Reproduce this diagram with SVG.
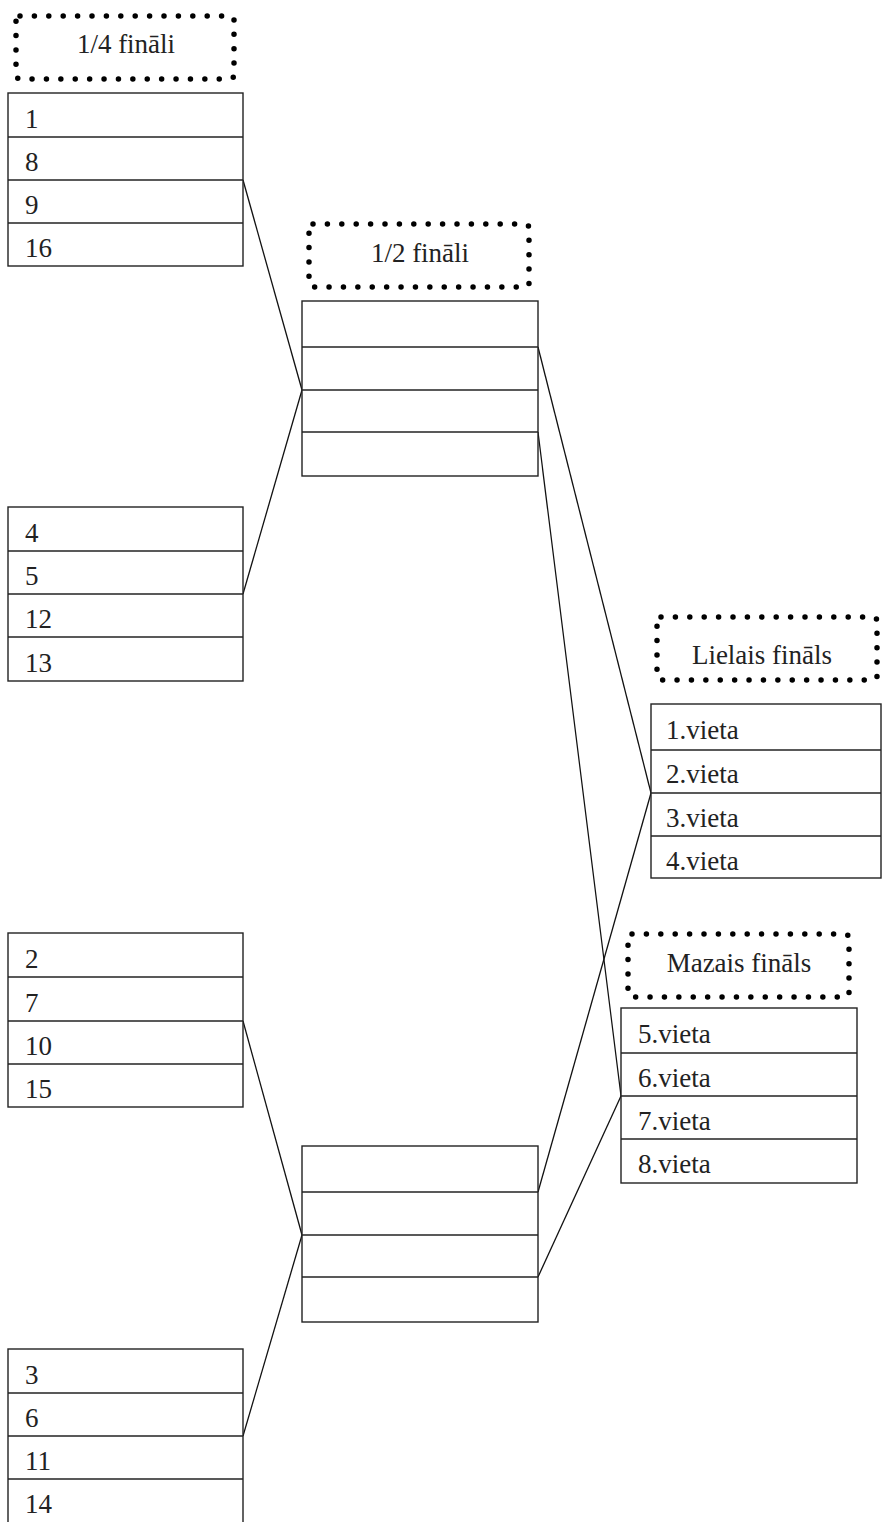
<svg xmlns="http://www.w3.org/2000/svg" width="882" height="1522" viewBox="0 0 882 1522">
<style>
.tbl{fill:#fff;stroke:#222;stroke-width:1.4}
.row{stroke:#222;stroke-width:1.4}
.dot{fill:none;stroke:#000;stroke-width:5.5;stroke-linecap:round;stroke-dasharray:0 14.4}
.t{font-family:'Liberation Serif','DejaVu Serif',serif;font-size:27px;fill:#222}
.h{font-family:'Liberation Serif','DejaVu Serif',serif;font-size:27px;fill:#222;text-anchor:middle}
.c{stroke:#111;stroke-width:1.3;fill:none}
</style>
<rect width="882" height="1522" fill="#fff"/>
<g id="connectors">
<line class="c" x1="243" y1="180" x2="302" y2="390"/>
<line class="c" x1="243" y1="594" x2="302" y2="390"/>
<line class="c" x1="243" y1="1021" x2="302" y2="1235"/>
<line class="c" x1="243" y1="1436" x2="302" y2="1235"/>
<line class="c" x1="538" y1="347" x2="651" y2="793"/>
<line class="c" x1="538" y1="432" x2="621" y2="1096"/>
<line class="c" x1="538" y1="1192" x2="651" y2="793"/>
<line class="c" x1="538" y1="1277" x2="621" y2="1096"/>
</g>
<g id="label-qf">
<rect class="dot" x="16" y="16" width="218" height="63" rx="4"/>
<text class="h" x="126" y="53" font-family="Liberation Serif, serif">1/4 fināli</text>
</g>
<g id="label-sf">
<rect class="dot" x="309" y="224" width="220" height="63" rx="4"/>
<text class="h" x="420" y="262" font-family="Liberation Serif, serif">1/2 fināli</text>
</g>
<g id="label-lf">
<rect class="dot" x="657" y="617" width="220" height="63" rx="4"/>
<text class="h" x="762" y="664" font-family="Liberation Serif, serif">Lielais fināls</text>
</g>
<g id="label-mf">
<rect class="dot" x="628" y="934" width="221" height="63" rx="4"/>
<text class="h" x="739" y="972" font-family="Liberation Serif, serif">Mazais fināls</text>
</g>
<g id="qf1" font-family="Liberation Serif, serif">
<rect class="tbl" x="8" y="93" width="235" height="173"/>
<line class="row" x1="8" y1="137" x2="243" y2="137"/>
<line class="row" x1="8" y1="180" x2="243" y2="180"/>
<line class="row" x1="8" y1="223" x2="243" y2="223"/>
<text class="t" x="25" y="128">1</text>
<text class="t" x="25" y="171">8</text>
<text class="t" x="25" y="214">9</text>
<text class="t" x="25" y="257">16</text>
</g>
<g id="qf2">
<rect class="tbl" x="8" y="507" width="235" height="174"/>
<line class="row" x1="8" y1="551" x2="243" y2="551"/>
<line class="row" x1="8" y1="594" x2="243" y2="594"/>
<line class="row" x1="8" y1="637" x2="243" y2="637"/>
<text class="t" x="25" y="542">4</text>
<text class="t" x="25" y="585">5</text>
<text class="t" x="25" y="628">12</text>
<text class="t" x="25" y="672">13</text>
</g>
<g id="qf3">
<rect class="tbl" x="8" y="933" width="235" height="174"/>
<line class="row" x1="8" y1="977" x2="243" y2="977"/>
<line class="row" x1="8" y1="1021" x2="243" y2="1021"/>
<line class="row" x1="8" y1="1064" x2="243" y2="1064"/>
<text class="t" x="25" y="968">2</text>
<text class="t" x="25" y="1012">7</text>
<text class="t" x="25" y="1055">10</text>
<text class="t" x="25" y="1098">15</text>
</g>
<g id="qf4">
<rect class="tbl" x="8" y="1349" width="235" height="174"/>
<line class="row" x1="8" y1="1393" x2="243" y2="1393"/>
<line class="row" x1="8" y1="1436" x2="243" y2="1436"/>
<line class="row" x1="8" y1="1479" x2="243" y2="1479"/>
<text class="t" x="25" y="1384">3</text>
<text class="t" x="25" y="1427">6</text>
<text class="t" x="25" y="1470">11</text>
<text class="t" x="25" y="1513">14</text>
</g>
<g id="sf1">
<rect class="tbl" x="302" y="301" width="236" height="175"/>
<line class="row" x1="302" y1="347" x2="538" y2="347"/>
<line class="row" x1="302" y1="390" x2="538" y2="390"/>
<line class="row" x1="302" y1="432" x2="538" y2="432"/>
</g>
<g id="sf2">
<rect class="tbl" x="302" y="1146" width="236" height="176"/>
<line class="row" x1="302" y1="1192" x2="538" y2="1192"/>
<line class="row" x1="302" y1="1235" x2="538" y2="1235"/>
<line class="row" x1="302" y1="1277" x2="538" y2="1277"/>
</g>
<g id="lf">
<rect class="tbl" x="651" y="704" width="230" height="174"/>
<line class="row" x1="651" y1="750" x2="881" y2="750"/>
<line class="row" x1="651" y1="793" x2="881" y2="793"/>
<line class="row" x1="651" y1="836" x2="881" y2="836"/>
<text class="t" x="666" y="739">1.vieta</text>
<text class="t" x="666" y="783">2.vieta</text>
<text class="t" x="666" y="827">3.vieta</text>
<text class="t" x="666" y="870">4.vieta</text>
</g>
<g id="mf">
<rect class="tbl" x="621" y="1008" width="236" height="175"/>
<line class="row" x1="621" y1="1053" x2="857" y2="1053"/>
<line class="row" x1="621" y1="1096" x2="857" y2="1096"/>
<line class="row" x1="621" y1="1139" x2="857" y2="1139"/>
<text class="t" x="638" y="1043">5.vieta</text>
<text class="t" x="638" y="1087">6.vieta</text>
<text class="t" x="638" y="1130">7.vieta</text>
<text class="t" x="638" y="1173">8.vieta</text>
</g>
</svg>
